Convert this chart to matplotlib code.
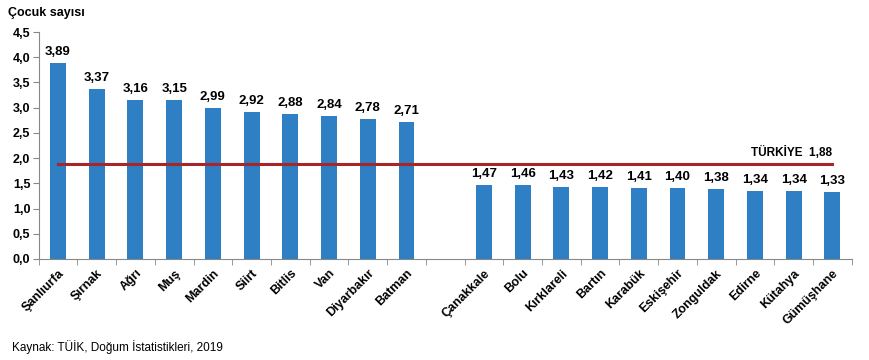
import matplotlib.pyplot as plt
import numpy as np

plt.rcParams['font.family'] = ['Liberation Sans', 'DejaVu Sans']

# en yuksek ve en dusuk 10 il
high_names = ['Şanlıurfa', 'Şırnak', 'Ağrı', 'Muş', 'Mardin', 'Siirt', 'Bitlis', 'Van', 'Diyarbakır', 'Batman']
high_vals = [3.89, 3.37, 3.16, 3.15, 2.99, 2.92, 2.88, 2.84, 2.78, 2.71]
low_names = ['Çanakkale', 'Bolu', 'Kırklareli', 'Bartın', 'Karabük', 'Eskişehir', 'Zonguldak', 'Edirne', 'Kütahya', 'Gümüşhane']
low_vals = [1.47, 1.46, 1.43, 1.42, 1.41, 1.40, 1.38, 1.34, 1.34, 1.33]
turkiye = 1.88

names = high_names + [''] + low_names
vals = high_vals + [np.nan] + low_vals
x = np.arange(len(names))

fig = plt.figure(figsize=(8.7, 3.6), dpi=100)
ax = fig.add_axes([0.0444, 0.2806, 0.9346, 0.6305])

bar_col = '#2E7FC4'
ax.bar(x, vals, width=0.41, color=bar_col, zorder=2)
for xi, v in zip(x, vals):
    if not np.isnan(v):
        ax.text(xi, v + 0.1, f'{v:.2f}'.replace('.', ','), ha='center', va='bottom',
                fontsize=9.5, fontweight='bold')

ax.plot([x[0], x[-1]], [turkiye, turkiye], color='#A8262A', lw=2.2, zorder=3)
ax.text(x[-1], turkiye + 0.1, 'TÜRKİYE  ' + f'{turkiye:.2f}'.replace('.', ','),
        ha='right', va='bottom', fontsize=8.5, fontweight='bold')

ax.set_xlim(-0.5, len(names) - 0.5)
ax.set_ylim(0, 4.5)
yt = np.arange(0, 4.51, 0.5)
ax.set_yticks(yt)
ax.set_yticklabels([f'{t:.1f}'.replace('.', ',') for t in yt], fontsize=9, fontweight='bold')
ax.set_xticks(x)
ax.set_xticklabels(names, rotation=45, ha='right', rotation_mode='anchor', fontsize=9, fontweight='bold')
ax.tick_params(axis='x', length=0, pad=6)
ax.set_xticks(np.arange(-0.5, len(names), 1), minor=True)
ax.tick_params(axis='x', which='minor', length=4, color='#888888')
ax.tick_params(axis='y', length=4, color='#888888', pad=2)

for s in ['top', 'right']:
    ax.spines[s].set_visible(False)
for s in ['left', 'bottom']:
    ax.spines[s].set_color('#888888')

fig.text(0.009, 0.965, 'Çocuk sayısı', fontsize=9, fontweight='bold', va='center')
fig.text(0.014, 0.035, 'Kaynak: TÜİK, Doğum İstatistikleri, 2019', fontsize=8.5, va='center')

fig.savefig('out.png', dpi=100)
